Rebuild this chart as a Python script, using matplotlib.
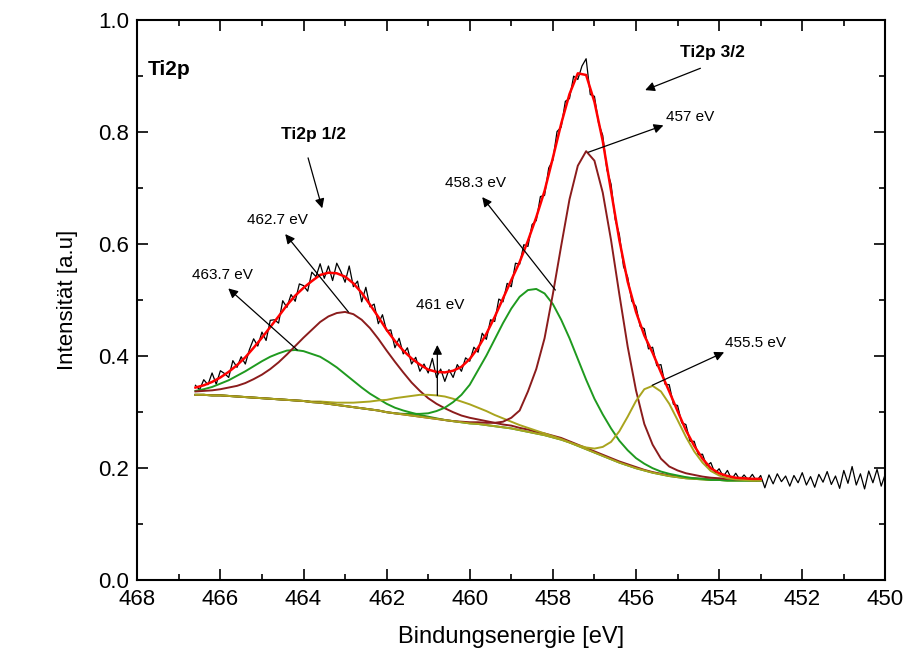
import numpy as np
import matplotlib
matplotlib.use("Agg")
import matplotlib.pyplot as plt
from matplotlib.ticker import MultipleLocator, FormatStrFormatter

plt.rcParams["font.family"] = ["Liberation Sans", "DejaVu Sans"]

spectrum = [
    .348, .340, .358, .349, .370, .350, .374, .369, .362, .392,
    .380, .399, .386, .412, .431, .418, .443, .428, .464, .465,
    .459, .499, .487, .510, .498, .529, .526, .516, .550, .542,
    .565, .539, .561, .535, .566, .551, .532, .561, .524, .534,
    .497, .523, .488, .493, .458, .474, .445, .447, .415, .432,
    .404, .415, .386, .398, .373, .386, .370, .396, .362, .377,
    .355, .376, .362, .385, .373, .397, .391, .416, .407, .441,
    .430, .465, .462, .502, .497, .530, .524, .566, .564, .599,
    .596, .635, .642, .685, .687, .736, .750, .801, .809, .855,
    .860, .900, .894, .918, .931, .867, .864, .816, .794, .733,
    .707, .644, .617, .560, .541, .498, .489, .453, .449, .413,
    .416, .383, .385, .350, .349, .314, .312, .281, .278, .248,
    .248, .224, .225, .204, .210, .191, .199, .185, .196, .180,
    .191, .179, .188, .179, .189, .177, .187,
    .165, .188, .172, .190, .176, .186, .168, .187, .174, .192,
    .170, .185, .166, .189, .175, .194, .171, .186, .164, .196,
    .173, .203, .170, .190, .163, .195, .174, .198, .168, .190,
]
spectrum_ev = np.linspace(466.6, 450.0, len(spectrum))

# fit curves, 466.6 -> 453.0 eV
envelope = [
    .344, .348, .354, .362, .372, .384, .398, .415, .433, .452,
    .471, .491, .508, .522, .534, .545, .549, .548, .542, .530,
    .513, .492, .470, .447, .427, .410, .396, .385, .376, .372,
    .371, .374, .381, .395, .415, .440, .470, .503, .536, .568,
    .606, .648, .695, .754, .815, .868, .905, .902, .854, .784,
    .695, .607, .533, .479, .437, .406, .371, .337, .302, .268,
    .240, .217, .200, .191, .186, .183, .182, .181, .181,
]
peak_463_7 = [
    .338, .341, .345, .351, .357, .365, .373, .382, .391, .399,
    .405, .410, .411, .409, .404, .399, .390, .380, .368, .356,
    .344, .333, .324, .315, .308, .303, .299, .295, .292, .289,
    .286, .284, .282, .280, .279, .277, .275, .273, .271, .268,
    .265, .262, .259, .255, .251, .246, .240, .234, .228, .222,
    .216, .210, .205, .200, .196, .192, .189, .186, .184, .182,
    .181, .180, .179, .179, .178, .178, .178, .178, .178,
]
peak_462_7 = [
    .337, .338, .339, .341, .344, .347, .352, .359, .367, .377,
    .389, .403, .418, .433, .447, .461, .471, .477, .479, .475,
    .465, .450, .431, .410, .390, .371, .353, .338, .325, .315,
    .307, .300, .294, .290, .287, .284, .281, .278, .276, .272,
    .269, .265, .262, .258, .254, .248, .242, .236, .230, .224,
    .218, .212, .207, .202, .197, .193, .190, .187, .185, .183,
    .182, .181, .180, .180, .179, .179, .179, .178, .178,
]
peak_461 = [
    .331, .331, .330, .330, .329, .328, .327, .326, .325, .324,
    .323, .322, .321, .320, .319, .319, .318, .317, .317, .317,
    .318, .319, .321, .322, .325, .327, .329, .331, .331, .330,
    .328, .324, .319, .314, .308, .302, .295, .289, .283, .277,
    .272, .267, .262, .257, .252, .246, .240, .234, .228, .222,
    .216, .210, .205, .200, .196, .192, .189, .186, .184, .182,
    .181, .180, .179, .179, .178, .178, .178, .178, .178,
]
peak_458_3 = [
    .331, .331, .330, .330, .329, .328, .327, .326, .325, .324,
    .323, .322, .321, .320, .318, .317, .315, .313, .311, .309,
    .307, .305, .303, .300, .298, .297, .297, .297, .298, .302,
    .308, .318, .331, .349, .375, .401, .430, .459, .485, .506,
    .518, .520, .512, .493, .465, .432, .395, .358, .324, .296,
    .271, .249, .232, .218, .208, .200, .194, .190, .187, .184,
    .182, .181, .179, .179, .178, .178, .178, .178, .178,
]
peak_457 = [
    .331, .331, .330, .330, .329, .328, .327, .326, .325, .324,
    .323, .322, .321, .320, .318, .317, .315, .313, .311, .309,
    .307, .305, .303, .300, .298, .296, .294, .292, .290, .288,
    .286, .284, .283, .282, .282, .281, .281, .283, .290, .303,
    .337, .377, .432, .511, .597, .680, .740, .766, .749, .692,
    .607, .510, .417, .339, .279, .242, .217, .203, .196, .191,
    .188, .185, .183, .182, .181, .180, .180, .180, .180,
]
peak_455_5 = [
    .331, .331, .330, .330, .329, .328, .327, .326, .325, .324,
    .323, .322, .321, .320, .318, .317, .315, .313, .311, .309,
    .307, .305, .303, .300, .298, .296, .294, .292, .290, .288,
    .286, .284, .282, .280, .279, .277, .275, .273, .271, .268,
    .265, .262, .259, .255, .251, .246, .241, .237, .235, .238,
    .247, .266, .292, .320, .341, .347, .337, .315, .286, .256,
    .230, .210, .195, .187, .182, .180, .179, .178, .178,
]
fit_ev = np.linspace(466.6, 453.0, len(envelope))

# peak labels: text, text position, arrow tail, arrow tip
labels = ["463.7 eV", "462.7 eV", "461 eV", "458.3 eV", "457 eV", "455.5 eV"]
label_xy = [(465.95, 0.545), (464.63, 0.643), (460.71, 0.491),
            (459.87, 0.709), (454.69, 0.827), (453.13, 0.423)]
arrow_from = [(464.15, 0.411), (462.92, 0.479), (460.78, 0.330),
              (457.94, 0.518), (457.15, 0.764), (455.61, 0.348)]
arrow_to = [(465.81, 0.521), (464.44, 0.618), (460.78, 0.420),
            (459.70, 0.684), (455.34, 0.812), (453.88, 0.407)]

dark_red = "#8b1c1c"
green = "#1f9a1f"
olive = "#a9a41e"

fig = plt.figure(figsize=(9.09, 6.7), dpi=100)
ax = fig.add_axes([0.151, 0.134, 0.823, 0.836])

ax.plot(spectrum_ev, spectrum, color="black", lw=0.9)

ax.plot(fit_ev, peak_463_7, color=green, lw=1.4)
ax.plot(fit_ev, peak_462_7, color=dark_red, lw=1.4)
ax.plot(fit_ev, peak_461, color=olive, lw=1.4)
ax.plot(fit_ev, peak_458_3, color=green, lw=1.4)
ax.plot(fit_ev, peak_457, color=dark_red, lw=1.4)
ax.plot(fit_ev, peak_455_5, color=olive, lw=1.4)
ax.plot(fit_ev, envelope, color="red", lw=1.8)

# arrows with binding energies
arrow_style = dict(arrowstyle="-|>", color="black", lw=0.9, mutation_scale=14,
                   shrinkA=0, shrinkB=0)
for text, xy, tail, tip in zip(labels, label_xy, arrow_from, arrow_to):
    ax.annotate("", xy=tip, xytext=tail, arrowprops=arrow_style)
    ax.text(xy[0], xy[1], text, fontsize=11, ha="center", va="center")

# doublet labels
ax.text(467.74, 0.911, "Ti2p", fontsize=15, fontweight="bold", ha="left", va="center")
ax.text(463.77, 0.795, "Ti2p 1/2", fontsize=12.5, fontweight="bold", ha="center", va="center")
ax.annotate("", xy=(463.55, 0.664), xytext=(463.89, 0.754), arrowprops=arrow_style)
ax.text(454.16, 0.943, "Ti2p 3/2", fontsize=12.5, fontweight="bold", ha="center", va="center")
ax.annotate("", xy=(455.78, 0.875), xytext=(454.45, 0.914), arrowprops=arrow_style)

ax.set_xlim(468, 450)
ax.set_ylim(0, 1.0)
ax.xaxis.set_major_locator(MultipleLocator(2))
ax.xaxis.set_minor_locator(MultipleLocator(1))
ax.yaxis.set_major_locator(MultipleLocator(0.2))
ax.yaxis.set_minor_locator(MultipleLocator(0.1))
ax.yaxis.set_major_formatter(FormatStrFormatter("%.1f"))
ax.tick_params(which="both", direction="in", top=True, right=True, width=1.2)
ax.tick_params(which="major", length=8, labelsize=16, pad=6)
ax.tick_params(which="minor", length=4)
for spine in ax.spines.values():
    spine.set_linewidth(1.5)

ax.set_xlabel("Bindungsenergie [eV]", fontsize=17, labelpad=12)
ax.set_ylabel("Intensität [a.u]", fontsize=16, labelpad=14)

fig.savefig("out.png", dpi=100)
